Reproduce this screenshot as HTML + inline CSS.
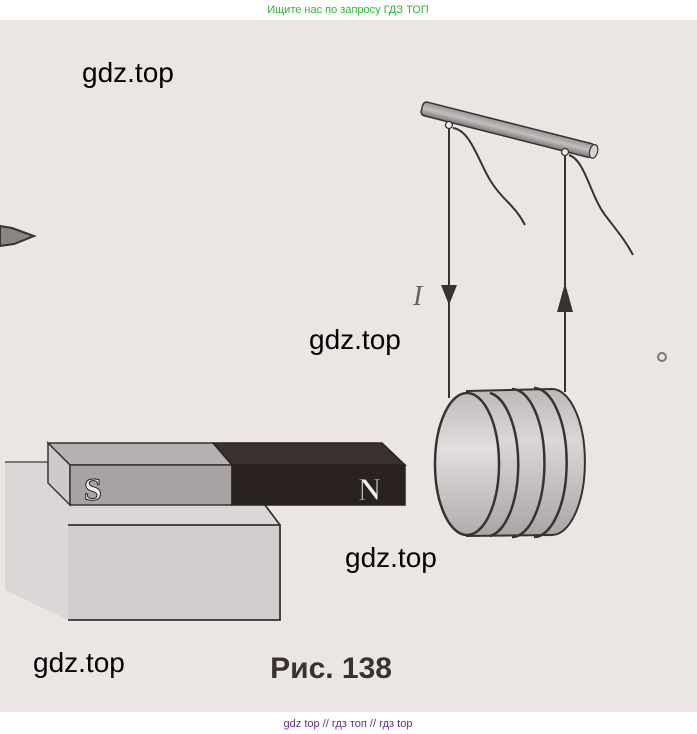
<!DOCTYPE html>
<html><head><meta charset="utf-8"><style>
html,body{margin:0;padding:0;width:697px;height:734px;overflow:hidden;background:#fff;}
svg{display:block}
</style></head><body>
<svg width="697" height="734" viewBox="0 0 697 734" xmlns="http://www.w3.org/2000/svg">
<defs>
<linearGradient id="rod" x1="0" y1="0" x2="0" y2="1">
<stop offset="0" stop-color="#9a9494"/><stop offset="0.5" stop-color="#c4bebe"/><stop offset="1" stop-color="#7c7676"/></linearGradient>
<linearGradient id="coil" x1="0" y1="0" x2="0" y2="1">
<stop offset="0" stop-color="#bdb7b7"/><stop offset="0.35" stop-color="#dcd7d7"/><stop offset="1" stop-color="#aaa4a4"/></linearGradient>
<linearGradient id="inner" x1="0" y1="0" x2="0" y2="1">
<stop offset="0" stop-color="#c2bcbc"/><stop offset="0.4" stop-color="#e2dede"/><stop offset="1" stop-color="#b2acac"/></linearGradient>
</defs>
<rect x="0" y="20" width="697" height="692" fill="#ebe6e4"/>
<text x="348" y="13" font-family="Liberation Sans, sans-serif" font-size="11" fill="#22bb33" text-anchor="middle">Ищите нас по запросу ГДЗ ТОП</text>
<text x="348" y="727" font-family="Liberation Sans, sans-serif" font-size="11" fill="#6a2a8a" text-anchor="middle">gdz top  //  гдз топ  //  гдз top</text>

<path d="M0,226 L12,228 L34,236 L14,244 L0,246 Z" fill="#8a8484" stroke="#3a3232" stroke-width="2"/>

<path d="M5,462 L48,462 L48,483 L70,505 L265,505 L280,525 L280,620 L68,620 L5,590 Z" fill="#dcd7d7"/>
<path d="M5,462 L48,462" stroke="#555" stroke-width="1.5"/>
<rect x="68" y="525" width="212" height="95" fill="#d2cdcd"/>
<path d="M68,525 L280,525 L280,620 L68,620" fill="none" stroke="#3a3232" stroke-width="1.8"/>
<path d="M265,505 L280,525" stroke="#3a3232" stroke-width="1.8"/>

<path d="M48,443 L213,443 L232,465 L70,465 Z" fill="#b6b0b0" stroke="#3a3232" stroke-width="1.5"/>
<path d="M213,443 L382,443 L405,465 L232,465 Z" fill="#3a3030" stroke="#2a2222" stroke-width="1.5"/>
<path d="M48,443 L70,465 L70,505 L48,483 Z" fill="#cfcaca" stroke="#3a3232" stroke-width="1.5"/>
<rect x="70" y="465" width="162" height="40" fill="#a8a2a2" stroke="#3a3232" stroke-width="1.5"/>
<rect x="232" y="465" width="173" height="40" fill="#2a2220" stroke="#2a2220" stroke-width="1.5"/>
<text x="84" y="500" font-family="Liberation Serif, serif" font-weight="bold" font-size="32" fill="#f4f0f0" stroke="#222" stroke-width="1">S</text>
<text x="358" y="500" font-family="Liberation Serif, serif" font-weight="bold" font-size="32" fill="#f4f0f0" stroke="#222" stroke-width="1">N</text>

<g transform="rotate(14.2 422 108)">
<rect x="422" y="101" width="177" height="14" rx="4" fill="url(#rod)" stroke="#3a3232" stroke-width="1.5"/>
<ellipse cx="599" cy="108" rx="4" ry="7" fill="#d8d2d2" stroke="#3a3232" stroke-width="1.2"/>
</g>
<line x1="449" y1="128" x2="449" y2="398" stroke="#3a3232" stroke-width="2"/>
<line x1="565" y1="155" x2="565" y2="392" stroke="#3a3232" stroke-width="2"/>
<circle cx="449" cy="125" r="3.5" fill="#f4f0f0" stroke="#3a3232" stroke-width="1.3"/>
<circle cx="565" cy="152" r="3.5" fill="#f4f0f0" stroke="#3a3232" stroke-width="1.3"/>
<path d="M453,128 C470,130 478,160 490,180 C502,200 515,205 525,225" fill="none" stroke="#3a3232" stroke-width="2"/>
<path d="M569,155 C585,160 590,195 605,215 C618,232 625,240 633,255" fill="none" stroke="#3a3232" stroke-width="2"/>
<path d="M441,285 L457,285 L449,305 Z" fill="#3a3232"/>
<path d="M565,283 L573,312 L557,312 Z" fill="#3a3232"/>
<text x="413" y="305" font-family="Liberation Serif, serif" font-style="italic" font-size="28" fill="#6a6262">I</text>

<!-- coil -->
<path d="M467,391 L552,389 A32,71 0 0 1 552,535 L467,536 Z" fill="url(#coil)" stroke="#3a3232" stroke-width="2"/>
<path d="M490,393 A32,72 0 0 1 490,536" fill="none" stroke="#3a3232" stroke-width="2.5"/>
<path d="M512,389 A32,73 0 0 1 512,537" fill="none" stroke="#3a3232" stroke-width="2.5"/>
<path d="M534,388 A32,73 0 0 1 534,537" fill="none" stroke="#3a3232" stroke-width="2.5"/>
<ellipse cx="467" cy="464" rx="32" ry="71" fill="url(#inner)" stroke="#3a3232" stroke-width="2.5"/>

<circle cx="662" cy="357" r="4" fill="none" stroke="#777" stroke-width="2"/>

<text x="392" y="678" font-family="Liberation Sans, sans-serif" font-weight="bold" font-size="30" fill="#3a3232" text-anchor="end">Рис. 138</text>

<g font-family="Liberation Sans, sans-serif" font-size="28" fill="#000">
<text x="82" y="82">gdz.top</text>
<text x="309" y="349">gdz.top</text>
<text x="345" y="567">gdz.top</text>
<text x="33" y="672">gdz.top</text>
</g>
</svg>
</body></html>
